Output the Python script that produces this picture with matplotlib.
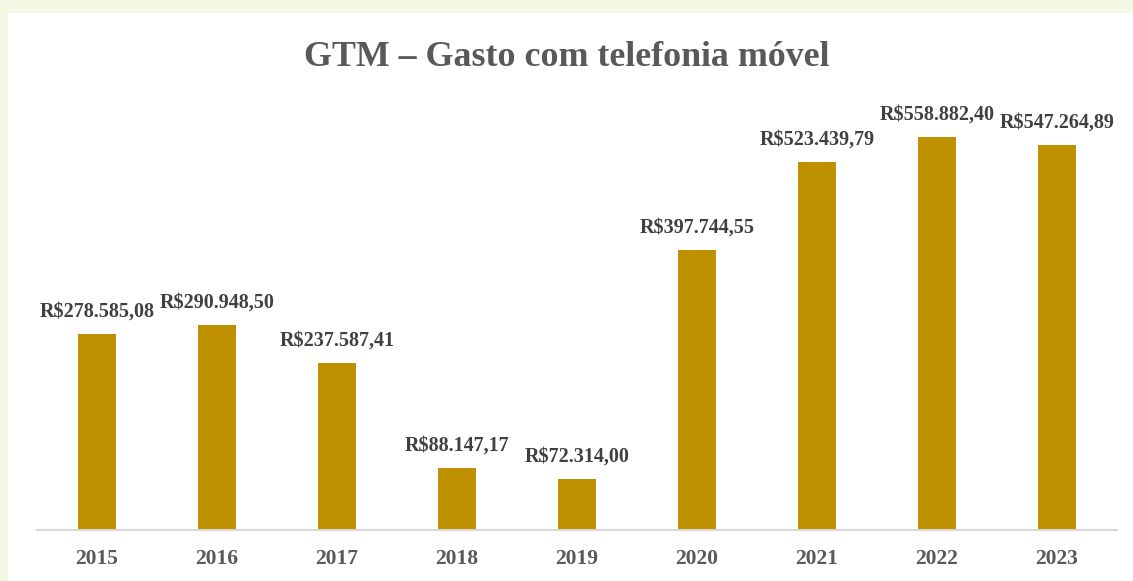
import matplotlib
matplotlib.use("Agg")
import matplotlib.pyplot as plt
from matplotlib.patches import Rectangle

years = ["2015", "2016", "2017", "2018", "2019", "2020", "2021", "2022", "2023"]
values = [278585.08, 290948.50, 237587.41, 88147.17, 72314.00,
          397744.55, 523439.79, 558882.40, 547264.89]
labels = ["R$278.585,08", "R$290.948,50", "R$237.587,41", "R$88.147,17", "R$72.314,00",
          "R$397.744,55", "R$523.439,79", "R$558.882,40", "R$547.264,89"]
title = "GTM – Gasto com telefonia móvel"

W, H = 1133, 581
fig = plt.figure(figsize=(W / 100, H / 100), dpi=100)
fig.patch.set_facecolor("#F5F7E5")
# white inner panel
fig.add_artist(Rectangle((8 / W, 0), 1 - 8 / W, 1 - 13 / H, transform=fig.transFigure,
                         facecolor="white", edgecolor="none", zorder=0))

serif = ["Liberation Serif", "DejaVu Serif"]
ax = fig.add_axes([37 / W, 51 / H, 1080 / W, (530 - 108) / H])
ax.set_facecolor("none")
x = list(range(len(years)))
ax.bar(x, values, width=0.317, color="#BF9000", zorder=2)
ax.set_xlim(-0.5, len(years) - 0.5)
ax.set_ylim(0, 600000)
for xi, v, lab in zip(x, values, labels):
    ax.annotate(lab, (xi, v), xytext=(0, 9), textcoords="offset points",
                ha="center", va="bottom", fontsize=14.5, fontweight="bold",
                color="#404040", family=serif)
ax.set_xticks(x)
ax.set_xticklabels(years, fontsize=15.5, fontweight="bold", color="#595959", family=serif)
ax.tick_params(axis="x", length=0, pad=14)
ax.set_yticks([])
for s in ["top", "right", "left"]:
    ax.spines[s].set_visible(False)
ax.spines["bottom"].set_color("#D9D9D9")
ax.spines["bottom"].set_linewidth(1.5)

fig.text(0.5, 1 - 57 / H, title, ha="center", va="center", fontsize=25.8,
         fontweight="bold", color="#595959", family=serif)

fig.savefig("out.png", dpi=100, facecolor=fig.get_facecolor())
